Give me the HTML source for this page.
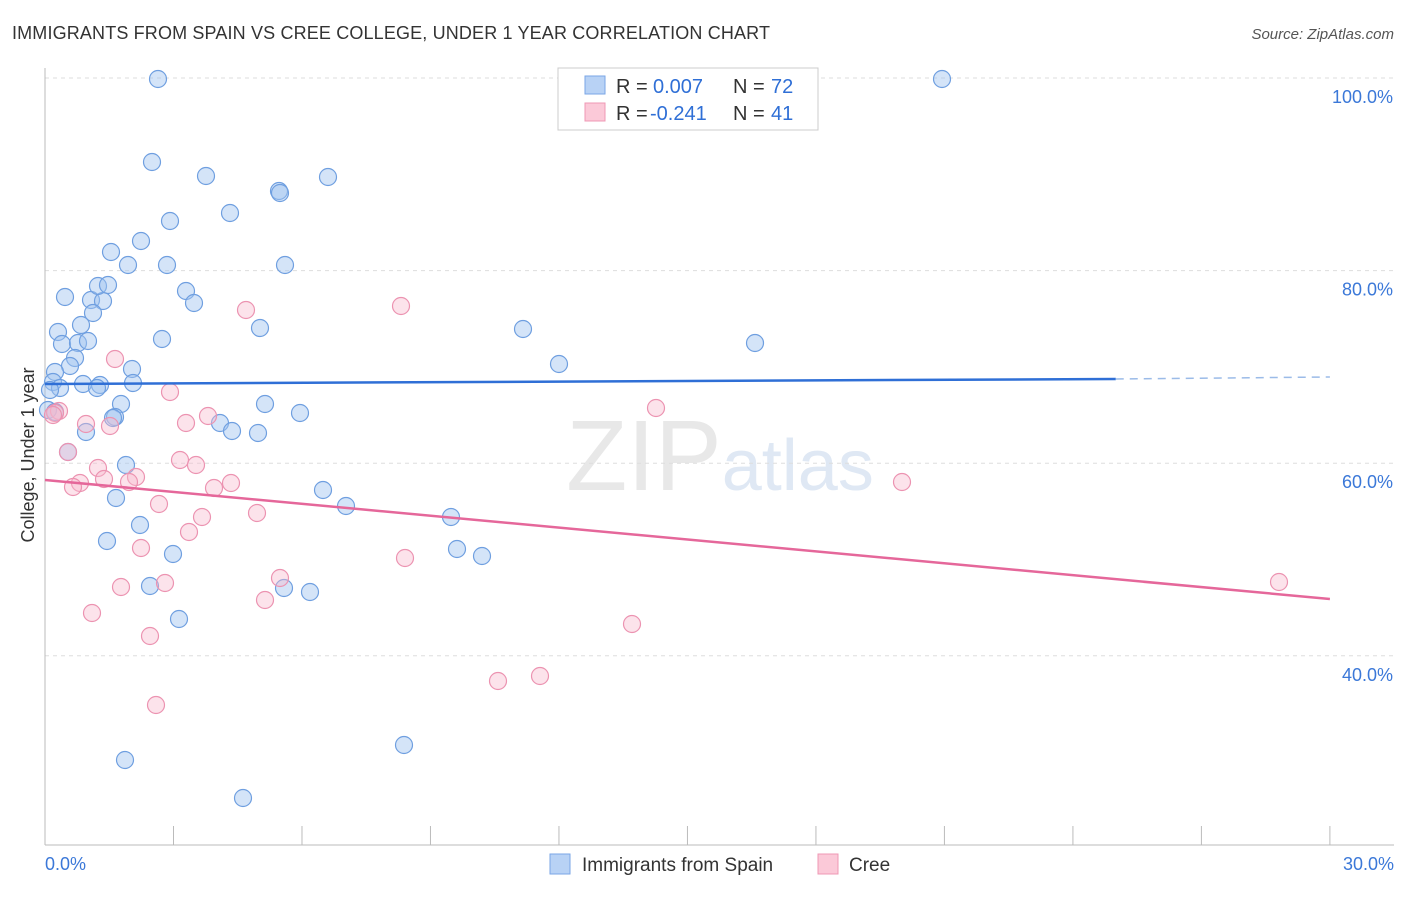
<!DOCTYPE html>
<html><head><meta charset="utf-8"><style>
body{margin:0;background:#fff;font-family:"Liberation Sans",sans-serif;}
svg text{font-family:"Liberation Sans",sans-serif;}
</style></head><body>
<svg id="c" width="1406" height="892">
<text x="12" y="39" font-size="18" fill="#333" textLength="758">IMMIGRANTS FROM SPAIN VS CREE COLLEGE, UNDER 1 YEAR CORRELATION CHART</text>
<text x="1394" y="39" font-size="15" fill="#555" font-style="italic" text-anchor="end">Source: ZipAtlas.com</text>
<text x="720" y="490" font-size="100" fill="#e8e8e8" text-anchor="middle" font-family="Liberation Serif">ZIP<tspan fill="#dfe8f4" font-family="Liberation Sans" font-size="72">atlas</tspan></text>
<g id="grid"></g><g id="pts"></g><g id="lines"></g>
<text transform="translate(34,455) rotate(-90)" font-size="18" fill="#333" text-anchor="middle">College, Under 1 year</text>
<g>
<rect x="558" y="68" width="260" height="62" fill="#fff" stroke="#ccc"/>
<rect x="585" y="76" width="20" height="18" fill="#b8d2f5" stroke="#7aa6e6"/>
<rect x="585" y="103" width="20" height="18" fill="#fbc9d8" stroke="#ef98b4"/>
<text x="616" y="93" font-size="20" fill="#333">R =</text>
<text x="653" y="93" font-size="20" fill="#2f6fd6">0.007</text>
<text x="733" y="93" font-size="20" fill="#333">N =</text>
<text x="771" y="93" font-size="20" fill="#2f6fd6">72</text>
<text x="616" y="120" font-size="20" fill="#333">R =</text>
<text x="650" y="120" font-size="20" fill="#2f6fd6">-0.241</text>
<text x="733" y="120" font-size="20" fill="#333">N =</text>
<text x="771" y="120" font-size="20" fill="#2f6fd6">41</text>
</g>
<g>
<rect x="550" y="854" width="20" height="20" fill="#b8d2f5" stroke="#7aa6e6"/>
<text x="582" y="871" font-size="19" fill="#333">Immigrants from Spain</text>
<rect x="818" y="854" width="20" height="20" fill="#fbc9d8" stroke="#ef98b4"/>
<text x="849" y="871" font-size="19" fill="#333">Cree</text>
</g>
</svg>
<script>
const blueX=[158,942,152,206,328,279,280,230,170,111,141,128,167,285,65,91,103,98,108,186,194,93,81,260,523,58,162,62,78,88,755,75,559,70,55,132,53,60,83,100,97,133,121,265,300,115,113,86,220,232,258,68,126,323,116,346,451,140,107,457,482,173,150,284,310,179,404,125,243,48,50,55];
const blueY=[79,79,162,176,177,191,193,213,221,252,241,265,265,265,297,300,301,286,285,291,303,313,325,328,329,332,339,344,343,341,343,358,364,366,372,369,382,388,384,385,388,383,404,404,413,417,418,432,423,431,433,452,465,490,498,506,517,525,541,549,556,554,586,588,592,619,745,760,798,410,390,412];
const pinkX=[246,401,115,170,656,59,55,186,208,110,86,68,98,180,196,104,80,73,136,129,214,231,902,159,202,257,189,141,405,280,165,121,265,92,632,150,498,540,156,1279,53];
const pinkY=[310,306,359,392,408,411,413,423,416,426,424,452,468,460,465,479,483,487,477,482,488,483,482,504,517,513,532,548,558,578,583,587,600,613,624,636,681,676,705,582,415];
const px2x=p=>(p-45)/42.83, py2y=p=>100-(p-78)/9.63;
const blueXv=blueX.map(px2x), blueYv=blueY.map(py2y), pinkXv=pinkX.map(px2x), pinkYv=pinkY.map(py2y);
const yTicks=[100,80,60,40], yTickLabels=["100.0%","80.0%","60.0%","40.0%"];
const sx=v=>45+v*42.83, sy=v=>78+(100-v)*9.63;
const NS="http://www.w3.org/2000/svg";
function mk(t,a,p){const e=document.createElementNS(NS,t);for(const k in a)e.setAttribute(k,a[k]);p.appendChild(e);return e;}
const g=document.getElementById('grid');
yTicks.forEach((t,i)=>{const l=mk('line',{x1:45,x2:1394,y1:sy(t),y2:sy(t),stroke:'#ddd','stroke-dasharray':'4,4'},g);


const tx=mk('text',{x:1393,y:sy(t)+25,'font-size':18,fill:'#3b78d8','text-anchor':'end'},g);tx.textContent=yTickLabels[i];

});
mk('line',{x1:45,x2:45,y1:68,y2:845,stroke:'#bbb'},g);
mk('line',{x1:45,x2:1394,y1:845,y2:845,stroke:'#bbb'},g);
for(let i=1;i<=10;i++){mk('line',{x1:sx(i*3),x2:sx(i*3),y1:826,y2:845,stroke:'#bbb'},g);}
const xl=mk('text',{x:45,y:870,'font-size':18,fill:'#3b78d8'},g);xl.textContent='0.0%';


const xr=mk('text',{x:1394,y:870,'font-size':18,fill:'#3b78d8','text-anchor':'end'},g);xr.textContent='30.0%';


const P=document.getElementById('pts');
blueXv.forEach((x,i)=>{const c=mk('circle',{cx:sx(x),cy:sy(blueYv[i]),r:8.5,fill:'rgba(160,195,240,0.45)',stroke:'#6f9fe0','stroke-width':1.2},P);

});
pinkXv.forEach((x,i)=>{const c=mk('circle',{cx:sx(x),cy:sy(pinkYv[i]),r:8.5,fill:'rgba(248,185,205,0.4)',stroke:'#ec93b1','stroke-width':1.2},P);

});
const L=document.getElementById('lines');
const b=mk('line',{x1:sx(0),y1:sy(py2y(384)),x2:sx(25),y2:sy(py2y(379)),stroke:'#2f6fd6','stroke-width':2.5},L);


const bd=mk('line',{x1:sx(25),y1:sy(py2y(379)),x2:sx(30),y2:sy(py2y(377)),stroke:'#9bbbe8','stroke-width':1.5,'stroke-dasharray':'8,6'},L);


const pl=mk('line',{x1:sx(0),y1:sy(py2y(480)),x2:sx(30),y2:sy(py2y(599)),stroke:'#e5679a','stroke-width':2.5},L);


</script>
</body></html>
